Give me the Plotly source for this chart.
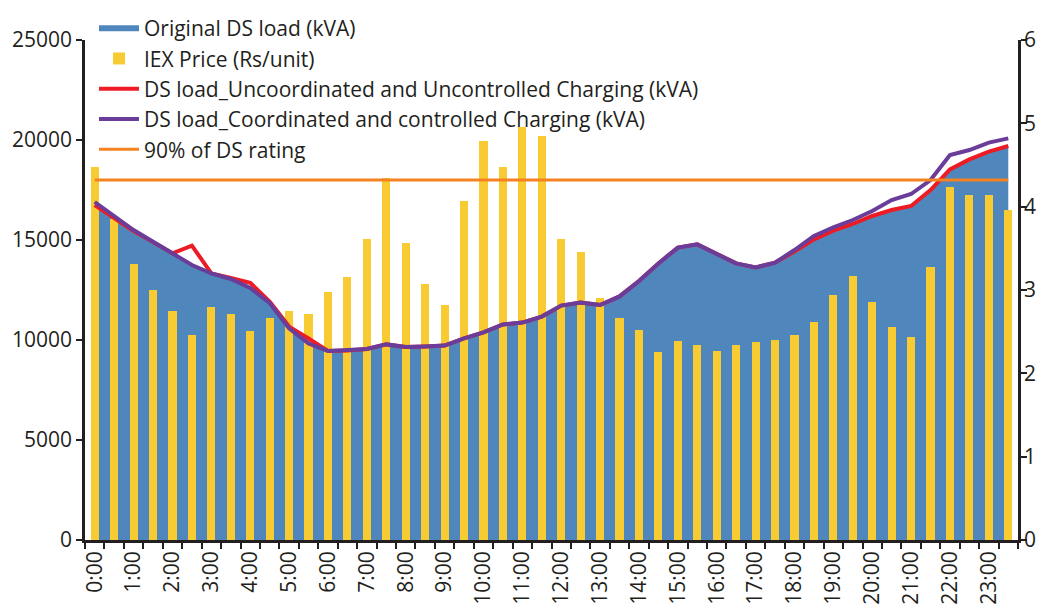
import plotly.graph_objects as go

times = [f"{h}:{m:02d}" for h in range(24) for m in (0, 30)]
hour_labels = [f"{h}:00" for h in range(24)]

original_load = [16750, 16100, 15450, 14900, 14333, 13750, 13333, 13000,
                 12600, 11850, 10583, 9850, 9450, 9480, 9550, 9780,
                 9650, 9680, 9720, 10080, 10380, 10780, 10870, 11170,
                 11720, 11870, 11750, 12180, 12950, 13830, 14620, 14780,
                 14330, 13830, 13630, 13870, 14420, 15030, 15470, 15800,
                 16200, 16500, 16700, 17500, 18530, 19030, 19420, 19700]

iex_price = [4.48, 3.85, 3.31, 3.00, 2.75, 2.46, 2.80, 2.71,
             2.51, 2.66, 2.75, 2.71, 2.98, 3.16, 3.61, 4.34,
             3.56, 3.07, 2.82, 4.07, 4.79, 4.48, 4.96, 4.85,
             3.61, 3.46, 2.90, 2.66, 2.52, 2.26, 2.39, 2.34,
             2.27, 2.34, 2.38, 2.40, 2.46, 2.62, 2.94, 3.17,
             2.86, 2.56, 2.44, 3.28, 4.24, 4.14, 4.14, 3.96]

uncoord_load = [16750, 16100, 15450, 14900, 14333, 14717, 13333, 13100,
                12860, 11920, 10670, 10080, 9450, 9480, 9550, 9780,
                9650, 9680, 9720, 10080, 10380, 10780, 10870, 11170,
                11720, 11870, 11750, 12180, 12950, 13830, 14620, 14780,
                14330, 13830, 13630, 13870, 14420, 15030, 15470, 15800,
                16200, 16500, 16700, 17500, 18530, 19030, 19420, 19700]

coord_load = [16900, 16170, 15500, 14917, 14333, 13750, 13333, 13050,
              12600, 11850, 10580, 9830, 9450, 9480, 9550, 9780,
              9650, 9680, 9720, 10080, 10380, 10780, 10870, 11170,
              11720, 11870, 11750, 12180, 12950, 13830, 14620, 14780,
              14330, 13830, 13630, 13870, 14500, 15200, 15630, 16000,
              16450, 17000, 17300, 18000, 19250, 19500, 19870, 20080]

ds_rating_90 = [18000] * len(times)

x = list(range(len(times)))
hour_pos = [times.index(h) for h in hour_labels]

BLUE = "#4F87BD"
YELLOW = "#F9CB33"
RED = "#ED1C24"
PURPLE = "#6A3D9A"
ORANGE = "#F58220"
INK = "#231F20"
FONT = "Open Sans"

# page body has an 8px default margin; figure sized to fit the viewport
W, H = 1036, 599
L, R, B = 77, 26, 67
PLOT_TOP = 32  # figure px
paper_h = H - B
y_dom_top = (paper_h - PLOT_TOP) / paper_h
plot_w = W - L - R

fig = go.Figure()
fig.add_trace(go.Scatter(x=x, y=original_load, name="Original DS load (kVA)",
                         mode="none", fill="tozeroy", fillcolor=BLUE,
                         yaxis="y"))
fig.add_trace(go.Bar(x=x, y=iex_price, name="IEX Price (Rs/unit)",
                     marker=dict(color=YELLOW, line=dict(width=0)),
                     width=0.42, yaxis="y2"))
fig.add_trace(go.Scatter(x=x, y=uncoord_load,
                         name="DS load_Uncoordinated and Uncontrolled Charging (kVA)",
                         mode="lines", line=dict(color=RED, width=4),
                         yaxis="y3"))
fig.add_trace(go.Scatter(x=x, y=coord_load,
                         name="DS load_Coordinated and controlled Charging (kVA)",
                         mode="lines", line=dict(color=PURPLE, width=4),
                         yaxis="y3"))
fig.add_trace(go.Scatter(x=x, y=ds_rating_90, name="90% of DS rating",
                         mode="lines", line=dict(color=ORANGE, width=3),
                         yaxis="y3"))

axis_common = dict(showgrid=False, zeroline=False, showline=True,
                   linecolor=INK, linewidth=2.5, ticks="outside",
                   tickcolor=INK, tickwidth=2, ticklen=6,
                   automargin=False, domain=[0, y_dom_top])

fig.update_layout(
    width=W, height=H,
    margin=dict(l=L, r=R, t=0, b=B, pad=0),
    plot_bgcolor="white", paper_bgcolor="white",
    font=dict(family=FONT, size=21, color=INK),
    showlegend=True,
    legend=dict(x=9 / plot_w, y=1.0, xanchor="left", yanchor="top",
                bgcolor="rgba(0,0,0,0)", font=dict(size=21),
                itemwidth=40, traceorder="normal", tracegroupgap=0),
    xaxis=dict(range=[-0.5, len(times) - 0.5], tickmode="array",
               tickvals=hour_pos, ticktext=hour_labels, tickangle=-90,
               showgrid=False, zeroline=False, showline=True,
               linecolor=INK, linewidth=2.5, ticks="",
               tickfont=dict(size=21), automargin=False,
               minor=dict(ticks="outside", tickmode="linear", tick0=-0.5,
                          dtick=1, ticklen=6, tickwidth=2,
                          tickcolor=INK, showgrid=False)),
    yaxis=dict(range=[0, 25000], tickmode="linear", tick0=0, dtick=5000,
               tickformat="d", **axis_common),
    yaxis2=dict(range=[0, 6], tickmode="linear", tick0=0, dtick=1,
                overlaying="y", side="right", ticklabelstandoff=-7,
                **axis_common),
    yaxis3=dict(range=[0, 25000], overlaying="y", visible=False,
                domain=[0, y_dom_top]),
    bargap=0,
)

fig.write_html("out.html")
